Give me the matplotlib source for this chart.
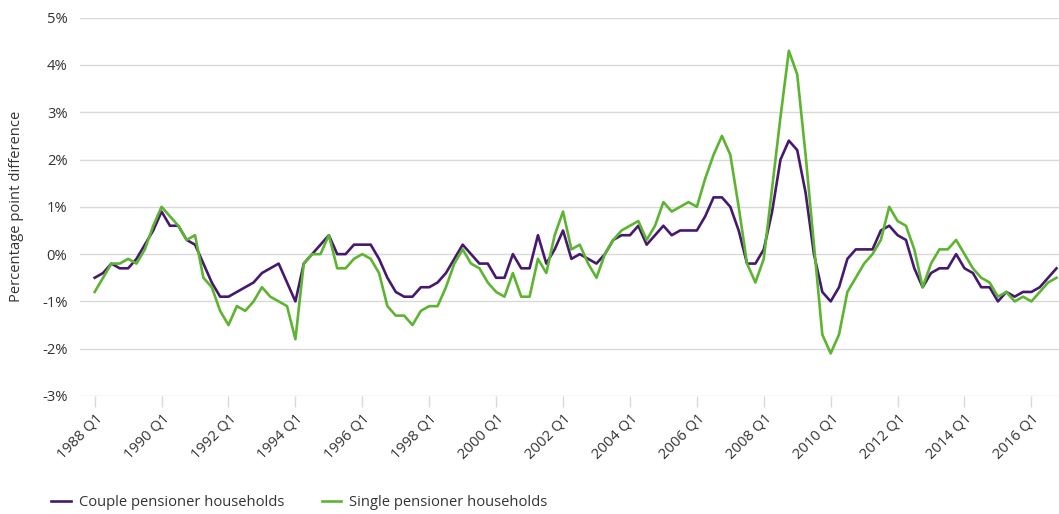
import matplotlib.pyplot as plt

plt.rcParams['font.family'] = ['Open Sans', 'DejaVu Sans']

# quarters from 1988 Q1 to 2016 Q4
years = list(range(1988, 2017))
quarters = [f"{y} Q{q}" for y in years for q in range(1, 5)]

couple = [
    -0.5, -0.4, -0.2, -0.3, -0.3, -0.1, 0.2, 0.5, 0.9, 0.6,
    0.6, 0.3, 0.2, -0.2, -0.6, -0.9, -0.9, -0.8, -0.7, -0.6,
    -0.4, -0.3, -0.2, -0.6, -1.0, -0.2, 0.0, 0.2, 0.4, 0.0,
    0.0, 0.2, 0.2, 0.2, -0.1, -0.5, -0.8, -0.9, -0.9, -0.7,
    -0.7, -0.6, -0.4, -0.1, 0.2, 0.0, -0.2, -0.2, -0.5, -0.5,
    0.0, -0.3, -0.3, 0.4, -0.2, 0.1, 0.5, -0.1, 0.0, -0.1,
    -0.2, 0.0, 0.3, 0.4, 0.4, 0.6, 0.2, 0.4, 0.6, 0.4,
    0.5, 0.5, 0.5, 0.8, 1.2, 1.2, 1.0, 0.5, -0.2, -0.2,
    0.1, 0.9, 2.0, 2.4, 2.2, 1.3, 0.0, -0.8, -1.0, -0.7,
    -0.1, 0.1, 0.1, 0.1, 0.5, 0.6, 0.4, 0.3, -0.3, -0.7,
    -0.4, -0.3, -0.3, 0.0, -0.3, -0.4, -0.7, -0.7, -1.0, -0.8,
    -0.9, -0.8, -0.8, -0.7, -0.5, -0.3,
]

single = [
    -0.8, -0.5, -0.2, -0.2, -0.1, -0.2, 0.1, 0.6, 1.0, 0.8,
    0.6, 0.3, 0.4, -0.5, -0.7, -1.2, -1.5, -1.1, -1.2, -1.0,
    -0.7, -0.9, -1.0, -1.1, -1.8, -0.2, 0.0, 0.0, 0.4, -0.3,
    -0.3, -0.1, 0.0, -0.1, -0.4, -1.1, -1.3, -1.3, -1.5, -1.2,
    -1.1, -1.1, -0.7, -0.2, 0.1, -0.2, -0.3, -0.6, -0.8, -0.9,
    -0.4, -0.9, -0.9, -0.1, -0.4, 0.4, 0.9, 0.1, 0.2, -0.2,
    -0.5, 0.0, 0.3, 0.5, 0.6, 0.7, 0.3, 0.6, 1.1, 0.9,
    1.0, 1.1, 1.0, 1.6, 2.1, 2.5, 2.1, 1.0, -0.2, -0.6,
    -0.1, 1.4, 2.9, 4.3, 3.8, 2.1, 0.2, -1.7, -2.1, -1.7,
    -0.8, -0.5, -0.2, 0.0, 0.3, 1.0, 0.7, 0.6, 0.1, -0.7,
    -0.2, 0.1, 0.1, 0.3, 0.0, -0.3, -0.5, -0.6, -0.9, -0.8,
    -1.0, -0.9, -1.0, -0.8, -0.6, -0.5,
]

purple = "#46196e"
green = "#5db431"
text_col = "#333333"
fs = 10.6

fig = plt.figure(figsize=(10.59, 5.14), dpi=100)
ax = fig.add_axes([0.0755, 0.2296, 0.9245, 0.736])

x = list(range(len(quarters)))
ax.plot(x, couple, color=purple, lw=1.9, label="Couple pensioner households")
ax.plot(x, single, color=green, lw=1.9, label="Single pensioner households")

ax.set_ylim(-3, 5)
ax.set_xlim(-1.76, 115.3)
ax.set_yticks(range(-3, 6))
ax.set_yticklabels([f"{v}%" for v in range(-3, 6)], fontsize=fs, color=text_col)
ax.grid(axis='y', color='#d9d9d9', lw=1)
ax.set_axisbelow(True)

ticks = x[::8]
ax.set_xticks(ticks)
ax.set_xticklabels([quarters[i] for i in ticks], rotation=45, ha='right',
                   rotation_mode='anchor', fontsize=fs, color=text_col)
ax.tick_params(axis='x', length=8, color='#d9d9d9', width=1, pad=3)
ax.tick_params(axis='y', length=0, pad=9)

for s in ax.spines.values():
    s.set_visible(False)

ax.set_ylabel("Percentage point difference", fontsize=fs, color=text_col, labelpad=13)

fig.legend(loc='center left', bbox_to_anchor=(0.036, 0.023), ncol=2, frameon=False,
           fontsize=fs, handlelength=1.3, handletextpad=0.55, columnspacing=2.6,
           labelcolor=text_col)

fig.savefig("out.png", dpi=100)
